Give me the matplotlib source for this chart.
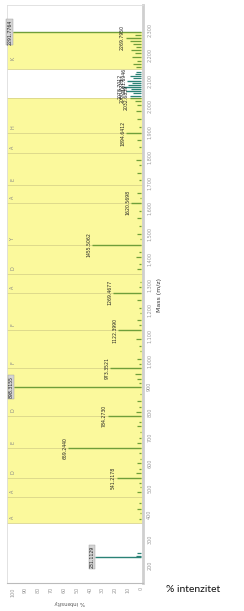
import matplotlib
matplotlib.use('Agg')
from matplotlib import pyplot as plt

# sequence ladder: segment boundaries (m/z) and residue letters between them
ladder_mz = [365, 467, 541, 659, 785, 899, 973, 1122, 1269, 1342, 1456, 1621, 1691, 1818, 1895, 2033]
ladder_aa = ['A', 'A', 'D', 'E', 'D', '', 'F', 'F', 'A', 'D', 'Y', 'A', 'E', 'A', 'H']
k_segment = [2147, 2292]
k_letter = 'K'

# labelled peaks
peak_mz = [231, 541, 659, 785, 899, 973, 1122, 1269, 1456, 1621, 1895, 2033, 2061, 2078, 2101, 2270, 2292]
peak_int = [36, 19, 57, 26, 99, 24, 18, 22, 38, 8, 12, 9, 12, 14, 11, 12, 100]
peak_lab = ['231.1129', '541.2178', '659.2440', '784.2730', '898.3155', '973.3521', '1122.3990',
            '1269.4677', '1455.5062', '1620.5698', '1894.6412', '2032.6839', '2060.7218',
            '2078.7012', '2101.6946', '2269.7950', '2291.7764']
peak_boxed = ['231.1129', '898.3155', '2291.7764']

# teal peaks (outside the covered sequence)
teal_mz = [236, 247, 2040, 2052, 2069, 2085, 2093, 2110, 2118, 2126, 2135]
teal_int = [4, 3, 9, 6, 8, 10, 7, 6, 9, 5, 4]

# small peaks
small_mz = [380, 402, 420, 445, 488, 505, 520, 560, 578, 600, 615, 640, 680, 700, 720, 745, 760, 800,
            820, 845, 870, 915, 930, 950, 990, 1010, 1040, 1060, 1085, 1140, 1160, 1190, 1210, 1240,
            1290, 1310, 1360, 1380, 1410, 1430, 1480, 1500, 1530, 1560, 1590, 1640, 1660, 1710, 1740,
            1770, 1790, 1840, 1870, 1920, 1950, 1980, 2005, 2020, 2155, 2168, 2180, 2195, 2208, 2220,
            2232, 2245, 2258, 2282]
small_int = [2, 1, 3, 2, 3, 1, 2, 4, 2, 3, 1, 2, 3, 2, 1, 3, 2, 4, 2, 3, 1, 2, 3, 5, 2, 3, 1, 2, 4,
             2, 3, 1, 2, 3, 2, 1, 3, 2, 4, 2, 1, 3, 2, 3, 2, 1, 3, 2, 3, 2, 4, 2, 3, 2, 3, 4, 3, 5,
             4, 6, 3, 7, 5, 8, 4, 6, 9, 5]

yellow = '#fbf99c'
edge = '#d9d58a'
green = '#6f9e3a'
teal = '#2a8276'

fig = plt.figure(figsize=(2.44, 6.11), dpi=100)
ax = fig.add_axes([7 / 244, 28 / 611, 136 / 244, 578 / 611])

# yellow sequence bands
ax.axhspan(ladder_mz[0], ladder_mz[-1], color=yellow, lw=0, zorder=0)
ax.axhspan(k_segment[0], k_segment[1], color=yellow, lw=0, zorder=0)
ax.hlines(ladder_mz + k_segment, -2, 106, color=edge, lw=0.6, zorder=1)
for lo, aa in zip(ladder_mz[:-1], ladder_aa):
    if aa:
        ax.text(100, lo + 22, aa, rotation=90, fontsize=3.5, color='#888888', ha='center', va='center', zorder=2)
ax.text(100, k_segment[0] + 40, k_letter, rotation=90, fontsize=3.5, color='#888888', ha='center', va='center', zorder=2)

# peaks
ax.hlines(small_mz, 0, small_int, color=green, lw=0.9, zorder=3)
ax.hlines(teal_mz, 0, teal_int, color=teal, lw=0.9, zorder=3)
for mz, it in zip(peak_mz, peak_int):
    c = teal if (mz < ladder_mz[0] or ladder_mz[-1] < mz < k_segment[0]) else green
    ax.hlines(mz, 0, it, color=c, lw=1.0, zorder=3)

for mz, it, lab in zip(peak_mz, peak_int, peak_lab):
    if lab in peak_boxed:
        ax.text(it + 0.5, mz, lab, rotation=90, fontsize=3.3, color='#222222', ha='right', va='center',
                zorder=5, bbox=dict(boxstyle='square,pad=0.15', fc='#d4d4d4', ec='#999999', lw=0.3))
    else:
        ax.text(it + 0.5, mz, lab, rotation=90, fontsize=3.3, color='#222222', ha='right', va='center', zorder=5)

ax.set_xlim(104.5, -1.5)
ax.set_ylim(129, 2398)

ax.set_xticks(range(0, 101, 10))
ax.set_xticklabels([str(v) for v in range(0, 101, 10)], rotation=90)
ax.set_yticks(range(200, 2301, 100))
ax.set_yticklabels(['{:,}'.format(v) for v in range(200, 2301, 100)], rotation=90, va='center')
ax.yaxis.tick_right()
ax.tick_params(axis='both', length=0, labelsize=3.5, labelcolor='#999999', pad=3)

for s in ['top', 'left']:
    ax.spines[s].set_color('#dddddd')
    ax.spines[s].set_linewidth(0.6)
ax.spines['right'].set_color('#cfcfcf')
ax.spines['right'].set_linewidth(2)
ax.spines['bottom'].set_color('#bbbbbb')
ax.spines['bottom'].set_linewidth(0.8)

fig.text(160 / 244, 1 - 295 / 611, 'Mass (m/z)', rotation=90, ha='center', va='center', fontsize=4.5, color='#333333')
fig.text(70 / 244, 1 - 602 / 611, '% intensity', rotation=180, ha='center', va='center', fontsize=4, color='#555555')
fig.text(166 / 244, 1 - 590 / 611, '% intenzitet', ha='left', va='center', fontsize=7.5, family='Lato', color='#111111')

plt.savefig('out.png', dpi=100)
